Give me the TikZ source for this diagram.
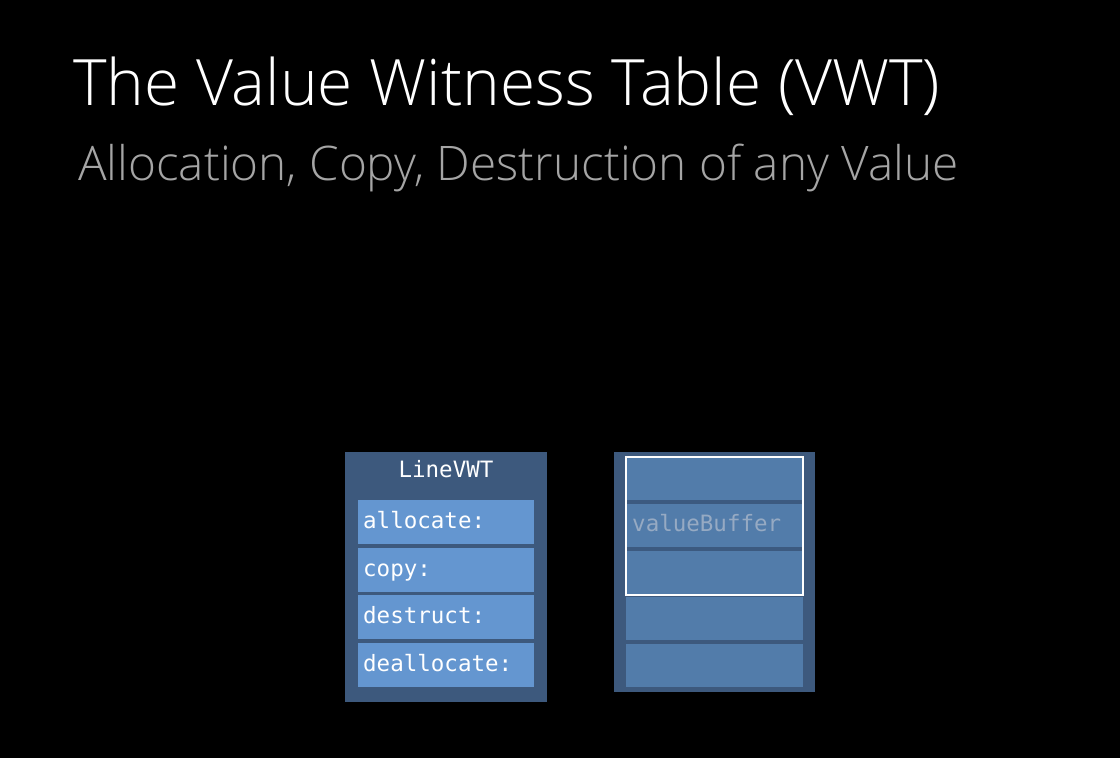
\documentclass[tikz,border=0pt]{standalone}
\usepackage{fontspec}
\IfFontExistsTF{Open Sans Light}{\newfontfamily\titlefont{Open Sans Light}}{%
  \IfFontExistsTF{Fira Sans Light}{\newfontfamily\titlefont{Fira Sans Light}}{%
    \IfFontExistsTF{Lato Light}{\newfontfamily\titlefont{Lato Light}}{%
      \newfontfamily\titlefont{Open Sans}}}}
\newfontfamily\codefont{DejaVu Sans Mono}
\definecolor{outerbox}{RGB}{61,89,125}
\definecolor{cellL}{RGB}{100,150,208}
\definecolor{cellR}{RGB}{82,124,170}
\definecolor{sepR}{RGB}{60,90,128}
\definecolor{subgray}{RGB}{165,165,165}
\definecolor{buftext}{RGB}{150,170,195}
\tikzset{
  outer/.style={fill=outerbox, draw=none},
  lcell/.style={fill=cellL, draw=none},
  rcell/.style={fill=cellR, draw=none},
  celltext/.style={font=\codefont\fontsize{22.5}{22.5}\selectfont, text=white, anchor=base west, inner sep=0pt},
}
\begin{document}
\begin{tikzpicture}[x=1pt,y=-1pt]
\fill[black] (0,0) rectangle (1120,758);
\useasboundingbox (0,0) rectangle (1120,758);
% title
\node[anchor=base west, inner sep=0pt, text=white] (title) at (73,105)
  {\resizebox{867pt}{!}{\titlefont The Value Witness Table (VWT)}};
\node[anchor=base west, inner sep=0pt, text=subgray] (subtitle) at (78,180)
  {\resizebox{880pt}{!}{\titlefont Allocation, Copy, Destruction of any Value}};
% left table
\path[outer] (345,452) rectangle (547,702);
\coordinate (lt) at (446,477);
\node[celltext, anchor=base] (lhead) at (lt) {LineVWT};
\foreach \i/\t [count=\k] in {500/allocate:,548/copy:,595/destruct:,643/deallocate:}{
  \path[lcell] (358,\i) rectangle (534,\i+44);
  \node[celltext] (lc\k) at (363,\i+28) {\t};
}
% right table
\path[outer] (614,452) rectangle (815,692);
\foreach \i [count=\k] in {457,504,551,597,644}{
  \path[rcell] (626,\i) rectangle (803,\i+43);
}
\fill[sepR] (626,500) rectangle (803,504);
\fill[sepR] (626,547) rectangle (803,551);
\node[celltext, text=buftext] (vb) at (632,531) {valueBuffer};
\draw[white, line width=2pt] (626,457) rectangle (803,595);
\end{tikzpicture}
\end{document}
